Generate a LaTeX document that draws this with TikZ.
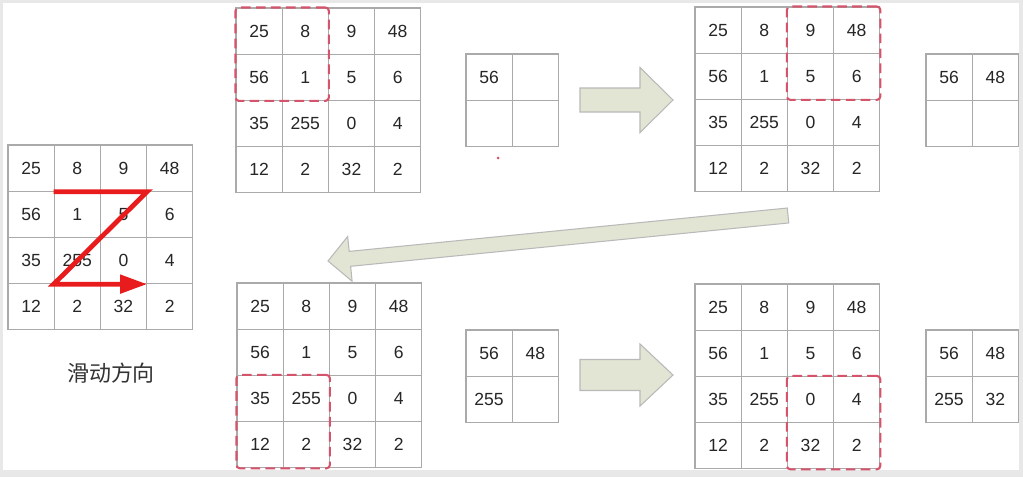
\documentclass[tikz,border=0pt]{standalone}
\usepackage{fontspec}
\setmainfont{Liberation Sans}
\newfontfamily\cjk{Noto Sans CJK SC}
\usetikzlibrary{calc,fit,arrows.meta}

\definecolor{winred}{RGB}{212,84,108}
\definecolor{zred}{RGB}{232,28,28}
\definecolor{arrowfill}{RGB}{226,228,212}
\definecolor{cellline}{RGB}{170,170,170}

\newcommand{\biggrid}[3]{%
  \foreach \row [count=\r] in {{25,8,9,48},{56,1,5,6},{35,255,0,4},{12,2,32,2}}
    \foreach \val [count=\c] in \row
      \node[cell] (#1-\r-\c) at ({#2+(\c-0.5)*46.2},{#3+(\r-0.5)*46.2}) {\val};
}
\newcommand{\smallgrid}[7]{%
  \node[cell] (#1-1-1) at ({#2+23.1},{#3+23.1}) {#4};
  \node[cell] (#1-1-2) at ({#2+69.3},{#3+23.1}) {#5};
  \node[cell] (#1-2-1) at ({#2+23.1},{#3+69.3}) {#6};
  \node[cell] (#1-2-2) at ({#2+69.3},{#3+69.3}) {#7};
}
\newcommand{\fatarrow}[5]{%
  \coordinate (hb) at ($(#2)!#5!(#1)$);
  \filldraw[blockarrow] ($(#1)!#3!90:(#2)$) -- ($(hb)!#3!90:(#2)$) -- ($(hb)!#4!90:(#2)$)
    -- (#2) -- ($(hb)!#4!-90:(#2)$) -- ($(hb)!#3!-90:(#2)$) -- ($(#1)!#3!-90:(#2)$) -- cycle;
}

\begin{document}
\begin{tikzpicture}[x=0.02cm, y=-0.02cm]
  \tikzset{cell/.style={rectangle, draw=cellline, line width=0.6pt, minimum size=0.924cm, inner sep=0pt, text=black!85, font=\fontsize{10}{12}\selectfont},
    window/.style={draw=winred, line width=1.2pt, dash pattern=on 5.5pt off 3pt, rounded corners=2pt, inner sep=0pt},
    blockarrow/.style={fill=arrowfill, draw=gray!55, line width=0.6pt, line join=miter},
    zpath/.style={draw=zred, line width=2.7pt, -{Triangle[length=0.54cm, width=0.36cm]}}}
  \useasboundingbox (0,0) rectangle (1023,477);
  \fill[gray!18] (0,0) rectangle (1023,477);
  \fill[white] (3,3) rectangle (1019,470);

  \biggrid{g0}{8}{145}
  \draw[zpath] (g0-1-2.south west) -- (g0-1-3.south east) -- (g0-3-2.south west) -- (g0-3-3.south east);
  \node[font=\cjk\fontsize{12.5}{14}\selectfont, text=black!80] (dir) at (111,373) {滑动方向};

  \biggrid{g1}{236}{8}
  \biggrid{g2}{695}{7}
  \biggrid{g3}{237}{283}
  \biggrid{g4}{695}{284}
  \node[window, fit=(g1-1-1)(g1-2-2)] (w1) {};
  \node[window, fit=(g2-1-3)(g2-2-4)] (w2) {};
  \node[window, fit=(g3-3-1)(g3-4-2)] (w3) {};
  \node[window, fit=(g4-3-3)(g4-4-4)] (w4) {};

  \smallgrid{s1}{466}{54}{56}{}{}{}
  \smallgrid{s2}{926}{54}{56}{48}{}{}
  \smallgrid{s3}{466}{330}{56}{48}{255}{}
  \smallgrid{s4}{926}{330}{56}{48}{255}{32}
  \fill[winred] (498,158) circle (0.03cm);

  \coordinate (a1s) at (580,100);
  \coordinate (a1t) at (673,100);
  \coordinate (a2s) at (788,215.5);
  \coordinate (a2t) at (328,261);
  \coordinate (a3s) at (580,375);
  \coordinate (a3t) at (673,375);
  \fatarrow{a1s}{a1t}{0.24cm}{0.65cm}{0.66cm}
  \fatarrow{a2s}{a2t}{0.15cm}{0.45cm}{0.44cm}
  \fatarrow{a3s}{a3t}{0.31cm}{0.62cm}{0.66cm}
\end{tikzpicture}
\end{document}
